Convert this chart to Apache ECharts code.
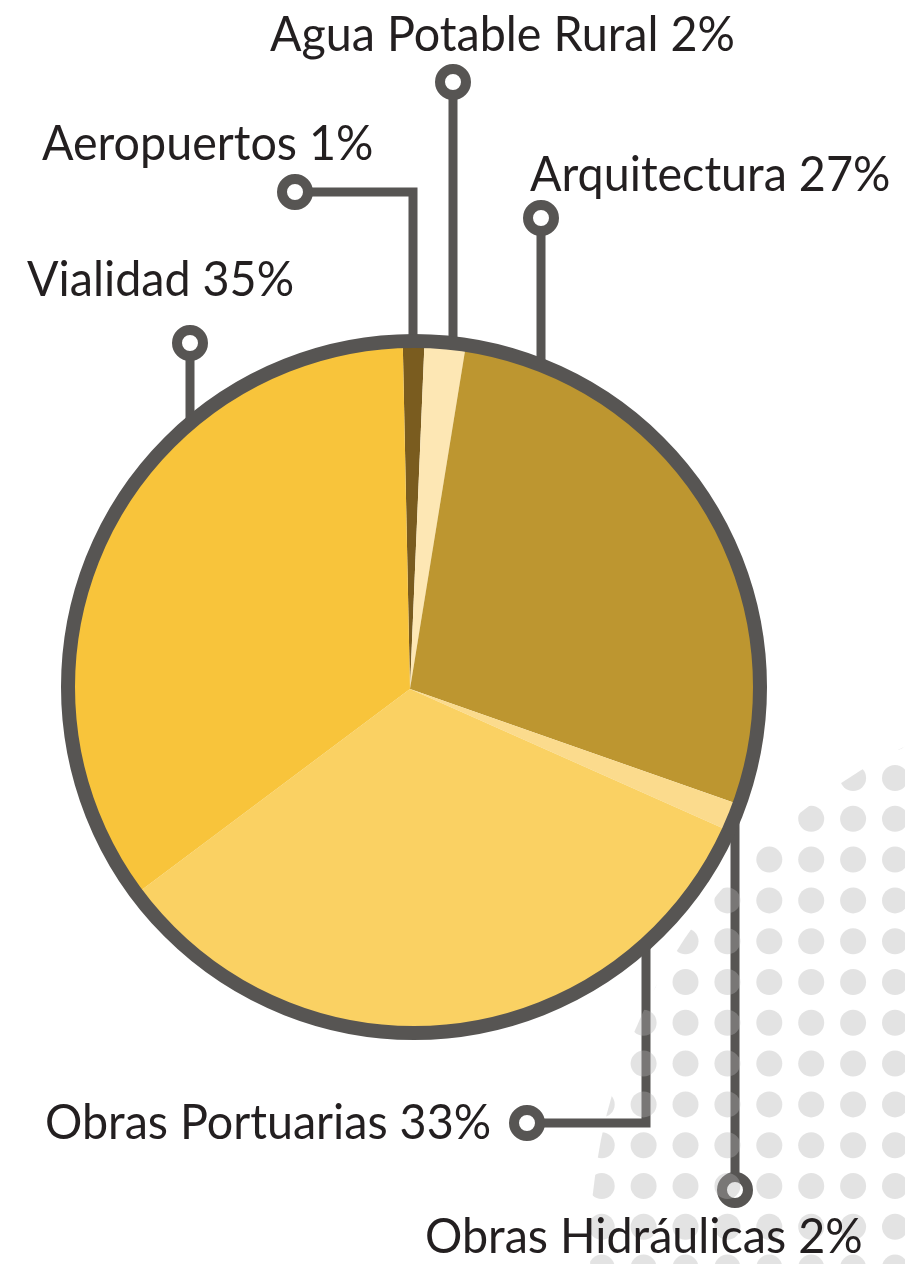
<!DOCTYPE html>
<html><head><meta charset="utf-8">
<script src="https://cdn.jsdelivr.net/npm/echarts@6/dist/echarts.min.js"></script>
<style>html,body{margin:0;padding:0;background:#fff}#c{width:905px;height:1264px}</style>
</head><body><div id="c"></div>
<script>
// ---- data ----
const categories = ['Aeropuertos', 'Agua Potable Rural', 'Arquitectura', 'Obras Hidráulicas', 'Obras Portuarias', 'Vialidad'];
const sliceShares = [1.0, 1.9, 27.8, 1.3, 33.1, 34.9];   // slice sizes as drawn
const labelPercents = [1, 2, 27, 2, 33, 35];              // printed percentages
const sliceColors = ['#7a5c1f', '#fde7b4', '#bd9630', '#fbdb8d', '#fad163', '#f8c43b'];

// ---- layout ----
const PIE = { cx: 410, cy: 689, r: 345, startAngle: 91.2 };
const RING = { cx: 414, cy: 687, r: 346, width: 14 };
const GRAY = '#575553';
const FONT_SIZE = 49;
const FONT_FAMILY = 'Lato';
const TEXT_SCALE = 0.952;
const BASELINE_SHIFT = 10;
// marker (mx,my), elbow/vertical x (ax), side of circle (top/bottom), text left x & baseline
const leaderLayout = {
  'Aeropuertos':        { mx: 295, my: 192,  ax: 413, side: 'top',    tx: 42,  ty: 159 },
  'Agua Potable Rural': { mx: 453, my: 82,   ax: 453, side: 'top',    tx: 270, ty: 50 },
  'Arquitectura':       { mx: 541, my: 218,  ax: 541, side: 'top',    tx: 530, ty: 190 },
  'Obras Hidráulicas':  { mx: 735, my: 1190, ax: 735, side: 'bottom', tx: 425, ty: 1252 },
  'Obras Portuarias':   { mx: 527, my: 1123, ax: 646, side: 'bottom', tx: 45,  ty: 1138 },
  'Vialidad':           { mx: 190, my: 343,  ax: 190, side: 'top',    tx: 27,  ty: 295 }
};

// ---- dot pattern (decoration) ----
function dotPattern() {
  const W = 419, H = 408, sx = 41.9, sy = 40.8, ox = 15.1, oy = 2.8, rr = 13;
  const c = document.createElement('canvas');
  c.width = W; c.height = H;
  const g = c.getContext('2d');
  g.fillStyle = 'rgba(178,178,178,0.37)';
  for (let i = -1; i <= 10; i++) {
    for (let j = -1; j <= 10; j++) {
      g.beginPath();
      g.arc(ox + i * sx, oy + j * sy, rr, 0, Math.PI * 2);
      g.fill();
    }
  }
  return c;
}

const chart = echarts.init(document.getElementById('c'), null, { renderer: 'canvas' });

const graphics = [];
// leader lines and markers
categories.forEach((name, i) => {
  const L = leaderLayout[name];
  const dx = L.ax - RING.cx;
  const h = Math.sqrt(RING.r * RING.r - dx * dx);
  const yc = L.side === 'top' ? RING.cy - h : RING.cy + h;
  graphics.push({
    type: 'polyline', z: 3, silent: true,
    shape: { points: [[L.mx, L.my], [L.ax, L.my], [L.ax, yc]] },
    style: { stroke: GRAY, lineWidth: 9, fill: null, lineJoin: 'miter' }
  });
  graphics.push({
    type: 'circle', z: 4, silent: true,
    shape: { cx: L.mx, cy: L.my, r: 13 },
    style: { fill: '#fff', stroke: GRAY, lineWidth: 10 }
  });
  graphics.push({
    type: 'text', z: 6, silent: true,
    x: L.tx, y: L.ty + BASELINE_SHIFT, scaleX: TEXT_SCALE,
    style: {
      text: name + ' ' + labelPercents[i] + '%',
      x: 0, y: 0,
      font: FONT_SIZE + 'px ' + FONT_FAMILY,
      fill: '#231f20',
      textAlign: 'left', textVerticalAlign: 'bottom'
    }
  });
});
// outer ring
graphics.push({
  type: 'circle', z: 4, silent: true,
  shape: { cx: RING.cx, cy: RING.cy, r: RING.r },
  style: { fill: null, stroke: GRAY, lineWidth: RING.width }
});
// dotted decoration
graphics.push({
  type: 'circle', z: 5, silent: true,
  shape: { cx: 1150, cy: 1250, r: 560 },
  style: { fill: { image: dotPattern(), repeat: 'repeat' } }
});

chart.setOption({
  animation: false,
  backgroundColor: '#fff',
  series: [{
    type: 'pie',
    center: [PIE.cx, PIE.cy],
    radius: PIE.r,
    startAngle: PIE.startAngle,
    clockwise: true,
    silent: true,
    label: { show: false },
    labelLine: { show: false },
    itemStyle: { borderWidth: 0 },
    data: categories.map((n, i) => ({ name: n, value: sliceShares[i], itemStyle: { color: sliceColors[i] } }))
  }],
  graphic: { elements: graphics }
});
</script>
</body></html>
